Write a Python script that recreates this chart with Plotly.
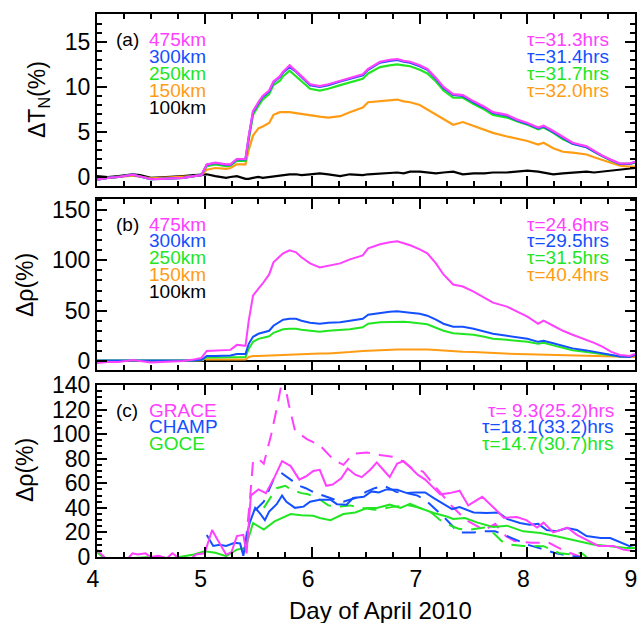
import plotly.graph_objects as go

# ---------------- Panel (a) and (b): common day grid ----------------
days_ab = [4.0, 4.1, 4.2, 4.33, 4.4, 4.5, 4.6, 4.7, 4.8, 4.9, 4.97, 5.02, 5.1, 5.2, 5.24, 5.3, 5.38,
           5.41, 5.45, 5.5, 5.54, 5.6, 5.64, 5.7, 5.73, 5.79, 5.85, 5.9, 5.98, 6.07, 6.15, 6.26, 6.35,
           6.47, 6.52, 6.63, 6.72, 6.79, 6.85, 6.91, 7.0, 7.07, 7.15, 7.22, 7.31, 7.4, 7.5, 7.6, 7.68,
           7.81, 7.9, 8.0, 8.1, 8.15, 8.24, 8.33, 8.42, 8.55, 8.62, 8.7, 8.78, 8.86, 8.95, 9.0]

# (a) temperature change (%)
tn_475 = [-0.3, -0.1, 0.0, 0.25, 0.05, -0.25, -0.2, -0.15, -0.1, 0.1, 0.2, 1.4, 1.6, 1.4, 1.4, 2.0, 2.0,
          4.5, 7.3, 8.3, 9.0, 9.6, 10.6, 11.2, 11.7, 12.4, 11.8, 11.2, 10.3, 10.1, 10.3, 10.7, 11.0,
          11.4, 12.0, 12.8, 13.0, 13.1, 12.9, 12.8, 12.4, 12.0, 11.0, 10.0, 9.2, 9.1, 8.4, 7.8, 7.2,
          6.9, 6.4, 6.0, 5.5, 5.7, 5.1, 4.4, 3.8, 3.4, 2.9, 2.35, 1.9, 1.5, 1.5, 1.7]
tn_300 = [-0.3, -0.1, 0.0, 0.25, 0.05, -0.25, -0.2, -0.15, -0.1, 0.1, 0.2, 1.35, 1.55, 1.35, 1.35, 1.95, 1.95,
          4.4, 7.2, 8.2, 8.9, 9.5, 10.5, 11.1, 11.6, 12.2, 11.7, 11.1, 10.2, 10.0, 10.2, 10.6, 10.9,
          11.3, 11.9, 12.7, 12.9, 13.0, 12.8, 12.7, 12.3, 11.9, 10.9, 9.9, 9.1, 9.0, 8.3, 7.7, 7.1,
          6.8, 6.3, 5.9, 5.4, 5.6, 5.0, 4.3, 3.7, 3.3, 2.8, 2.3, 1.85, 1.45, 1.45, 1.65]
tn_250 = [-0.3, -0.1, 0.0, 0.25, 0.05, -0.25, -0.2, -0.15, -0.1, 0.1, 0.2, 1.2, 1.4, 1.2, 1.25, 1.8, 1.8,
          4.1, 6.9, 7.9, 8.6, 9.2, 10.2, 10.7, 11.2, 11.8, 11.2, 10.6, 9.8, 9.6, 9.8, 10.2, 10.5,
          10.9, 11.5, 12.2, 12.4, 12.5, 12.4, 12.3, 11.9, 11.5, 10.6, 9.6, 8.8, 8.8, 8.1, 7.5, 6.9,
          6.6, 6.2, 5.8, 5.3, 5.5, 4.9, 4.2, 3.7, 3.3, 2.8, 2.3, 1.8, 1.45, 1.45, 1.6]
tn_150 = [-0.2, -0.1, 0.0, 0.15, 0.05, -0.15, -0.1, -0.05, 0.0, 0.1, 0.2, 0.8, 1.0, 0.9, 1.0, 1.4, 1.4,
          3.0, 4.6, 5.4, 5.6, 6.0, 6.9, 7.2, 7.2, 7.2, 7.1, 7.0, 6.8, 6.7, 6.6, 6.75, 7.2,
          7.7, 8.3, 8.4, 8.5, 8.6, 8.4, 8.3, 8.0, 7.5, 7.0, 6.5, 5.8, 6.1, 5.7, 5.3, 4.9,
          4.5, 4.3, 4.0, 3.6, 3.8, 3.2, 2.8, 2.7, 2.5, 2.2, 1.9, 1.6, 1.25, 1.15, 1.15]
tn_100 = [0.1, 0.0, 0.1, 0.3, 0.2, -0.1, -0.05, 0.0, 0.1, 0.2, 0.3, 0.3, 0.1, -0.1, 0.0, 0.1, -0.2,
          -0.2, -0.1, 0.0, -0.1, 0.0, 0.0, 0.1, 0.2, 0.3, 0.3, 0.2, 0.3, 0.4, 0.3, 0.1, 0.3,
          0.2, 0.3, 0.4, 0.5, 0.5, 0.4, 0.6, 0.6, 0.5, 0.4, 0.5, 0.6, 0.3, 0.4, 0.4, 0.5,
          0.5, 0.6, 0.7, 0.6, 0.5, 0.3, 0.4, 0.5, 0.6, 0.5, 0.6, 0.7, 0.8, 0.9, 1.0]

# (b) density change (%)
rho_475 = [-2, -1, -1, 1, 0, -1.5, -1, -0.5, 0, 1.5, 3, 10, 10.5, 10.5, 11, 16, 15,
           40, 65, 72, 77, 86, 98, 104, 107, 110, 108, 103, 97, 93, 95, 97, 101,
           105, 112, 116, 118, 119, 117, 115, 111, 107, 97, 86, 76, 74, 69, 63, 58,
           54, 49, 44, 37, 40, 35, 30, 26, 21, 18, 14, 9, 6, 5, 7]
rho_300 = [0.5, 0.5, 0, 0.5, 0.5, 0, 0, 0, 0, 0.5, 1, 5, 5, 5, 5.5, 7, 7,
           17, 24, 27, 28, 30, 35, 39, 41, 42, 42, 40, 38, 37, 38, 38.5, 40,
           42, 46, 48, 49, 49.5, 49, 48, 47, 45, 41, 37, 34, 34, 32, 29.5, 27,
           25, 23.5, 22, 19, 20, 17.5, 15, 12.5, 10.5, 9, 7.5, 6, 4.5, 4, 6]
rho_250 = [0.5, 0.5, 0, 0.5, 0.5, 0, 0, 0, 0, 0.5, 1, 3.5, 3.5, 3.5, 3.5, 4, 4,
           12, 19, 22, 23, 24.5, 28, 30.5, 31.5, 32, 32, 31, 30, 29, 30, 30.5, 31.5,
           33.5, 37, 38.5, 39, 39.4, 39, 38.5, 37.7, 36.4, 33, 30, 27.5, 27, 26, 24, 22,
           21, 20, 19, 17, 18, 15.5, 13, 10.6, 9, 8, 6.6, 5.5, 4.5, 4.5, 6]
rho_150 = [0.3, 0.3, 0, 0.3, 0.3, 0, 0, 0, 0, 0.3, 0.5, 1.4, 1.4, 1.4, 1.4, 1.4, 1.4,
           4, 5, 5, 5.2, 5.5, 5.7, 6, 6.2, 6.5, 6.6, 6.8, 7.0, 7.3, 7.5, 8, 8.8,
           10, 10.3, 10.8, 11.1, 11.3, 11.4, 11.5, 11.6, 11.5, 11, 10.3, 9.5, 9.2, 8.8, 8.2, 7.5,
           7.2, 6.9, 6.6, 6.3, 6.2, 5.9, 5.6, 5.3, 5.0, 4.8, 4.6, 4.4, 4.2, 4.0, 4.0]
rho_100 = [0] * 64

# ---------------- Panel (c): satellite observations ----------------
grace_days = [4.0, 4.04, 4.1, 4.2, 4.28, 4.33, 4.38, 4.45, 4.5, 4.57, 4.65, 4.7, 4.78, 4.85, 4.92, 5.0,
              5.07, 5.12, 5.2, 5.25, 5.3, 5.36, 5.39, 5.43, 5.5, 5.57, 5.65, 5.72, 5.8, 5.88, 5.95,
              6.01, 6.07, 6.13, 6.19, 6.27, 6.33, 6.4, 6.46, 6.54, 6.6, 6.66, 6.72, 6.79, 6.85, 6.91,
              6.98, 7.05, 7.11, 7.19, 7.28, 7.37, 7.45, 7.58, 7.7, 7.78, 7.9, 7.99, 8.09, 8.15, 8.24,
              8.37, 8.46, 8.55, 8.66, 8.8, 8.89, 8.97]
grace_obs = [6, 2, -3, -4, -2, 3, 2, 3, 0, 1, -1, 3, -2, -3, 2, 3,
             22, 14, 2, 4, 17, 18, 3, 50, 55, 52, 65, 78, 74, 63, 66,
             70, 71, 58, 59, 64, 72, 67, 65, 71, 77, 71, 65, 76, 78, 73,
             67, 63, 58, 51, 52, 54, 42, 49, 39, 32, 32.5, 30, 24, 28, 20,
             24, 18, 14, 9, 9, 6, 5]

champ_days = [5.02, 5.08, 5.14, 5.2, 5.28, 5.33, 5.36, 5.39, 5.42, 5.47, 5.51, 5.56, 5.6, 5.67, 5.72,
              5.76, 5.84, 5.92, 5.98, 6.07, 6.17, 6.23, 6.32, 6.38, 6.48, 6.55, 6.62, 6.69, 6.79, 6.88,
              6.96, 7.05, 7.13, 7.2, 7.3, 7.37, 7.5, 7.62, 7.73, 7.81, 7.93, 8.02, 8.1, 8.18, 8.27,
              8.37, 8.46, 8.55, 8.68, 8.77, 8.86, 8.95, 9.0]
champ_obs = [18, 9, 10, 9, 11.5, 11, 1, 17, 28, 40, 36, 30, 37, 43, 50,
             45, 40, 41, 45, 46.5, 46.6, 43, 42.6, 48, 49, 53.4, 52.5, 55, 54.7, 52,
             52.5, 52.5, 48, 44, 39, 40.6, 36.3, 35.8, 36.3, 31, 27.7, 26.3, 27, 22, 21,
             23.6, 22, 17, 15.5, 15.5, 12, 8.8, 10]

goce_days = [4.0, 4.04, 4.1, 4.3, 4.5, 4.7, 4.9, 5.0, 5.1, 5.2, 5.3, 5.38, 5.45, 5.55, 5.65, 5.8,
             5.9, 6.01, 6.07, 6.17, 6.29, 6.4, 6.51, 6.6, 6.72, 6.82, 6.91, 7.0, 7.13, 7.25, 7.31,
             7.42, 7.53, 7.68, 7.81, 7.96, 8.12, 8.27, 8.43, 8.61, 8.77, 8.92, 9.0]
goce_obs = [4, 1, -2, -1, 0, -1, 2, 4.7, 3.4, 0.7, 6, 7.4, 27.7, 22.3, 29, 35,
            34, 33.6, 31.7, 30, 35, 36.3, 39.9, 39.9, 42.6, 39.9, 43.3, 39.9, 35.8, 33, 31,
            31.7, 28.2, 24.4, 25.5, 20.9, 19.6, 16.9, 13.6, 10.1, 8.8, 7.4, 7.4]

grace_mod_days = [5.38, 5.42, 5.45, 5.5, 5.55, 5.62, 5.68, 5.73, 5.78, 5.84, 5.95, 6.07, 6.2, 6.29,
                  6.38, 6.51, 6.63, 6.75, 6.85, 6.94, 7.03, 7.1, 7.17, 7.28, 7.43, 7.6, 7.7, 7.8,
                  7.88, 8.04, 8.2, 8.35, 8.5]
grace_mod = [10, 45, 78, 80, 76, 100, 125, 148, 125, 103, 96, 91, 79, 75,
             84, 85, 83, 81.6, 77.6, 71.4, 69.5, 62, 55, 43, 30, 22, 27, 17,
             13, 11.6, 11.6, 4.7, 0]

champ_mod_days = [5.47, 5.55, 5.64, 5.72, 5.8, 5.88, 5.94, 6.03, 6.1, 6.2, 6.29, 6.4, 6.5, 6.58, 6.67,
                  6.78, 6.88, 6.98, 7.07, 7.13, 7.23, 7.36, 7.5, 7.6, 7.7, 7.84, 8.0, 8.12, 8.25,
                  8.4, 8.5]
champ_mod = [38, 45, 63, 68, 63, 58, 56, 52, 50, 47, 45, 48, 53, 56, 58,
             53, 52, 50, 45, 40, 32, 20, 20, 21, 21, 16, 10, 7, 3.4,
             0.7, 0]

goce_mod_days = [5.55, 5.62, 5.67, 5.75, 5.8, 5.9, 5.96, 6.05, 6.15, 6.25, 6.35, 6.45, 6.58, 6.7,
                 6.76, 6.9, 7.0, 7.11, 7.19, 7.3, 7.36, 7.45, 7.6, 7.68, 7.76, 7.85, 7.96, 8.05,
                 8.15, 8.3, 8.42, 8.5, 8.55]
goce_mod = [40, 50, 56, 58, 55, 52, 51, 48, 42, 41, 42, 40, 38.5, 40,
            41, 42, 40, 36, 30, 25, 23, 22, 24, 20, 13, 10, 9, 9,
            8.8, 3, 2, 3.4, 0]

# ---------------- Labels ----------------
alt_labels = ["475km", "300km", "250km", "150km", "100km"]
tau_a = ["τ=31.3hrs", "τ=31.4hrs", "τ=31.7hrs", "τ=32.0hrs"]
tau_b = ["τ=24.6hrs", "τ=29.5hrs", "τ=31.5hrs", "τ=40.4hrs"]
sat_labels = ["GRACE", "CHAMP", "GOCE"]
tau_c = ["τ= 9.3(25.2)hrs", "τ=18.1(33.2)hrs", "τ=14.7(30.7)hrs"]
xtick_vals = [4, 5, 6, 7, 8, 9]

MAG, BLU, GRN, ORG, BLK = "#ff40ff", "#1450ff", "#22e622", "#ff9c14", "#000000"
FONT = "Liberation Sans, Arial, sans-serif"

fig = go.Figure()

def add_line(x, y, color, xa, ya, dash=None, width=2):
    fig.add_trace(go.Scatter(x=x, y=y, mode="lines", xaxis=xa, yaxis=ya,
                             line=dict(color=color, width=width, dash=dash),
                             showlegend=False, hoverinfo="skip"))

# panel a (draw lower ones first)
for series, col in [(tn_100, BLK), (tn_150, ORG), (tn_250, GRN), (tn_300, BLU), (tn_475, MAG)]:
    add_line(days_ab, series, col, "x", "y", width=2.2)
# panel b
for series, col in [(rho_100, BLK), (rho_150, ORG), (rho_250, GRN), (rho_300, BLU), (rho_475, MAG)]:
    add_line(days_ab, series, col, "x2", "y2")
# panel c
add_line(grace_mod_days, grace_mod, MAG, "x3", "y3", dash="14px,9px")
add_line(champ_mod_days, champ_mod, BLU, "x3", "y3", dash="14px,9px")
add_line(goce_mod_days, goce_mod, GRN, "x3", "y3", dash="14px,9px")
add_line(goce_days, goce_obs, GRN, "x3", "y3")
add_line(champ_days, champ_obs, BLU, "x3", "y3")
add_line(grace_days, grace_obs, MAG, "x3", "y3")

# ---------------- Layout ----------------
L, R, T, B = 97, 4, 14, 66
W, H = 639, 623
PW, PH = W - L - R, H - T - B

def py(p):  # pixel y -> paper
    return (H - B - p) / PH

def px(p):  # pixel x -> paper
    return (p - L) / PW

def xaxis(anchor, labels):
    return dict(domain=[0, 1], range=[4, 9], anchor=anchor, tickvals=xtick_vals,
                ticks="inside", ticklen=10, tickwidth=2, tickcolor="black",
                showline=True, linecolor="black", linewidth=2, mirror="allticks",
                minor=dict(dtick=0.25, tick0=4, ticks="inside", ticklen=5, tickwidth=1.5, tickcolor="black"),
                showgrid=False, zeroline=False, showticklabels=labels, ticklabelshift=-4,
                tickfont=dict(size=23, color="black", family=FONT))

def yaxis(anchor, dom, rng, dtick, mdt):
    return dict(domain=dom, range=rng, anchor=anchor, dtick=dtick, tick0=0,
                ticks="inside", ticklen=10, tickwidth=2, tickcolor="black",
                showline=True, linecolor="black", linewidth=2, mirror="allticks",
                minor=dict(dtick=mdt, tick0=0, ticks="inside", ticklen=5, tickwidth=1.5, tickcolor="black"),
                showgrid=False, zeroline=False,
                tickfont=dict(size=23, color="black", family=FONT))

fig.update_layout(
    width=W, height=H, margin=dict(l=L, r=R, t=T, b=B, autoexpand=False),
    paper_bgcolor="white", plot_bgcolor="white",
    font=dict(family=FONT, color="black"),
    xaxis=xaxis("y", False), xaxis2=xaxis("y2", False), xaxis3=xaxis("y3", True),
    yaxis=yaxis("x", [py(186), 1.0], [-1, 18.1], 5, 1),
    yaxis2=yaxis("x2", [py(370), py(199)], [-9, 161], 50, 10),
    yaxis3=yaxis("x3", [0, py(385)], [0, 140], 20, 5),
)

ann = []
def text(x, y, s, color, size=19, xanchor="left", angle=0):
    ann.append(dict(x=px(x), y=py(y), xref="paper", yref="paper", text=s,
                    showarrow=False, xanchor=xanchor, yanchor="middle", textangle=angle,
                    font=dict(size=size, color=color, family=FONT)))

cols5 = [MAG, BLU, GRN, ORG, BLK]
# panel a
text(114, 40, "(a)", BLK)
for i, (lab, c) in enumerate(zip(alt_labels, cols5)):
    text(147, 40 + i * 16.8, lab, c)
for i, (lab, c) in enumerate(zip(tau_a, cols5)):
    text(611, 40 + i * 16.8, lab, c, xanchor="right")
# panel b
text(114, 224, "(b)", BLK)
for i, (lab, c) in enumerate(zip(alt_labels, cols5)):
    text(147, 224 + i * 16.8, lab, c)
for i, (lab, c) in enumerate(zip(tau_b, cols5)):
    text(611, 224 + i * 16.8, lab, c, xanchor="right")
# panel c
text(114, 410, "(c)", BLK)
for i, (lab, c) in enumerate(zip(sat_labels, [MAG, BLU, GRN])):
    text(147, 410 + i * 16.8, lab, c)
for i, (lab, c) in enumerate(zip(tau_c, [MAG, BLU, GRN])):
    text(616, 410 + i * 16.8, lab, c, xanchor="right")

# axis titles
text(38, 100, "ΔT<sub>N</sub>(%)", BLK, size=23, xanchor="center", angle=-90)
text(25, 285, "Δρ(%)", BLK, size=23, xanchor="center", angle=-90)
text(25, 470, "Δρ(%)", BLK, size=23, xanchor="center", angle=-90)
text(380, 610, "Day of April 2010", BLK, size=24, xanchor="center")

fig.update_layout(annotations=ann)
fig.write_html("out.html")
